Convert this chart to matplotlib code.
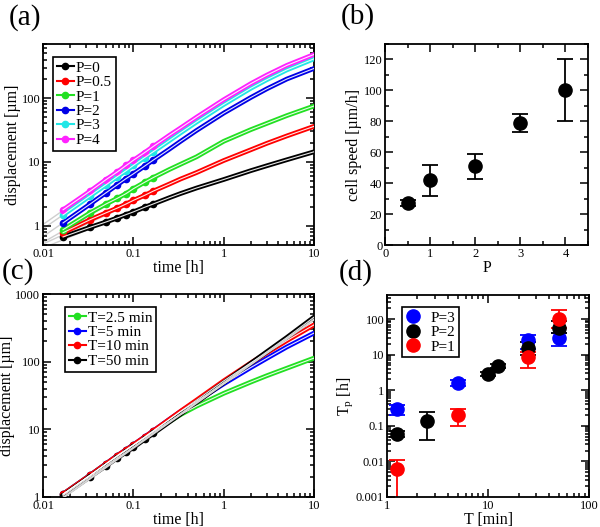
import numpy as np
import matplotlib
matplotlib.use("Agg")
import matplotlib.pyplot as plt
from matplotlib.ticker import FuncFormatter, MultipleLocator, LogLocator, NullFormatter

plt.rcParams['font.family'] = ['Liberation Serif', 'DejaVu Serif']
plt.rcParams['mathtext.fontset'] = 'custom'
plt.rcParams['mathtext.rm'] = 'Liberation Serif'
plt.rcParams['mathtext.it'] = 'Liberation Serif:italic'

# ---- panel (a): displacement vs time for several P ----
t_min = [1, 2, 3, 4, 5, 6, 8, 10, 15, 20, 30, 60, 120, 180, 300, 600]
a_labels = ['P=0', 'P=0.5', 'P=1', 'P=2', 'P=3', 'P=4']
a_colors = ['black', '#ff0000', '#22e022', '#0000e6', '#22e6e6', '#ff22ff']
a_disp = [
    [0.67, 0.95, 1.15, 1.33, 1.5, 1.65, 1.95, 2.2, 2.75, 3.2, 3.9, 5.3, 7.3, 8.7, 10.8, 14.4],
    [0.78, 1.25, 1.6, 1.9, 2.2, 2.5, 3.0, 3.5, 4.5, 5.4, 6.8, 10.5, 15.5, 19.5, 25.5, 36],
    [0.87, 1.6, 2.2, 2.7, 3.2, 3.8, 4.8, 5.7, 7.6, 9.2, 12, 21, 32, 40, 53, 75],
    [1.11, 2.2, 3.3, 4.4, 5.5, 6.5, 8.6, 10.7, 15.8, 21, 31, 58, 102, 139, 198, 290],
    [1.48, 2.95, 4.4, 5.9, 7.3, 8.8, 11.7, 14.5, 21.5, 28.5, 42, 79, 142, 193, 275, 410],
    [1.78, 3.5, 5.3, 7.0, 8.8, 10.6, 14, 17.5, 26, 34, 50, 94, 168, 228, 324, 480],
]
# light grey guide lines (value at t=0.01 h and t=0.1 h)
a_guide_t = [0.01, 0.1]
a_guide = [[0.45, 1.7], [0.52, 2.3], [0.55, 3.6], [0.68, 6.3], [0.9, 8.5], [1.05, 10.2]]

# ---- panel (b): cell speed vs P ----
b_P = [0.5, 1, 2, 3, 4]
b_speed = [27, 42, 51, 79, 100]
b_err = [2, 10, 8, 6, 20]

# ---- panel (c): displacement vs time for several T ----
c_labels = ['T=2.5 min', 'T=5 min', 'T=10 min', 'T=50 min']
c_colors = ['#22e022', '#0000ff', '#ff0000', 'black']
c_disp = [
    [1.1, 2.1, 3.1, 4.0, 4.9, 5.8, 7.5, 9.2, 13, 16.5, 22, 34, 50, 62, 80, 113],
    [1.1, 2.1, 3.1, 4.1, 5.0, 5.9, 7.7, 9.5, 14, 18.3, 26, 47, 82, 112, 165, 265],
    [1.1, 2.1, 3.1, 4.1, 5.0, 5.9, 7.7, 9.5, 14, 18.5, 27, 52, 96, 135, 205, 350],
    [1.05, 2.0, 2.9, 3.8, 4.6, 5.4, 7.1, 8.7, 12.8, 16.8, 25, 49, 95, 140, 228, 455],
]
c_guide_t = [0.01, 10]
c_guide = [0.6, 420]

# ---- panel (d): persistence time vs T ----
d_labels = ['P=3', 'P=2', 'P=1']
d_colors = ['#0000ff', 'black', '#ff0000']
d_T = [[1.25, 5, 25, 50], [1.25, 2.5, 10, 12.5, 25, 50], [1.25, 5, 25, 50]]
d_Tp = [[0.3, 1.6, 25, 29], [0.06, 0.14, 2.9, 4.8, 15, 56], [0.0063, 0.2, 8.5, 100]]
d_lo = [[0.2, 1.3, 14, 17], [0.05, 0.04, 2.5, 4.2, 10, 40], [0.0005, 0.1, 4.1, 55]]
d_hi = [[0.39, 1.9, 35, 41], [0.07, 0.24, 3.3, 5.4, 22, 90], [0.011, 0.3, 12, 175]]

t_h = np.array(t_min) / 60.0
fmt = FuncFormatter(lambda v, p: f'{v:g}')
LABEL_FS = 11.5
TICK_FS = 9


def style_axes(ax):
    for s in ax.spines.values():
        s.set_linewidth(1.3)
    ax.tick_params(which='both', direction='in', top=True, right=True,
                   labelsize=TICK_FS, width=1.1, pad=2)
    ax.tick_params(which='major', length=6)
    ax.tick_params(which='minor', length=3)


def log_axis(axis):
    axis.set_major_locator(LogLocator(base=10, numticks=12))
    axis.set_minor_locator(LogLocator(base=10, subs=np.arange(2, 10), numticks=12))
    axis.set_major_formatter(fmt)
    axis.set_minor_formatter(NullFormatter())


def draw_curves(ax, disp, colors, labels):
    handles = []
    for d, c, lab in zip(disp, colors, labels):
        ax.plot(t_h, d, color=c, lw=3.4, solid_capstyle='round', zorder=3)
        ax.plot(t_h[:8], d[:8], 'o', color=c, ms=4.5, zorder=4)
        ax.plot(t_h, d, color='white', lw=0.8, alpha=0.9, zorder=5)
        h, = ax.plot([], [], '-o', color=c, lw=1.5, ms=4.5, label=lab)
        handles.append(h)
    return handles


def boxed_legend(ax, handles, labels, anchor, **kw):
    leg = ax.legend(handles, labels, loc='upper left', fontsize=11,
                    labelspacing=0.05, borderpad=0.25, borderaxespad=0,
                    fancybox=False, framealpha=1, edgecolor='black',
                    bbox_to_anchor=anchor, **kw)
    leg.get_frame().set_linewidth(1.2)
    return leg


fig = plt.figure(figsize=(6.0, 5.27), dpi=100)

# (a)
ax = fig.add_axes([0.0717, 0.535, 0.4516, 0.3815])
for g in a_guide:
    ax.plot(a_guide_t, g, color='#cfcfcf', lw=1, zorder=1)
hs = draw_curves(ax, a_disp, a_colors, a_labels)
ax.set_xscale('log')
ax.set_yscale('log')
ax.set_xlim(0.01, 10)
ax.set_ylim(0.5, 700)
log_axis(ax.xaxis)
log_axis(ax.yaxis)
style_axes(ax)
ax.set_xlabel('time [h]', fontsize=LABEL_FS, labelpad=0)
ax.set_ylabel('displacement [µm]', fontsize=LABEL_FS, labelpad=0)
boxed_legend(ax, hs, a_labels, (0.037, 0.935), handlelength=1.1, handletextpad=0.15)

# (b)
ax = fig.add_axes([0.642, 0.535, 0.338, 0.3815])
ax.errorbar(b_P, b_speed, yerr=b_err, fmt='o', color='black', ms=9.5,
            capsize=6, elinewidth=1.3, capthick=1.3)
ax.set_xlim(0, 4.5)
ax.set_ylim(0, 130)
ax.xaxis.set_major_locator(MultipleLocator(1))
ax.xaxis.set_minor_locator(MultipleLocator(0.5))
ax.yaxis.set_major_locator(MultipleLocator(20))
ax.yaxis.set_minor_locator(MultipleLocator(10))
style_axes(ax)
ax.set_xlabel('P', fontsize=LABEL_FS, labelpad=0)
ax.set_ylabel('cell speed [µm/h]', fontsize=LABEL_FS, labelpad=1)

# (c)
ax = fig.add_axes([0.0717, 0.057, 0.4516, 0.385])
ax.plot(c_guide_t, c_guide, color='#d5d5d5', lw=1.5, zorder=6)
hs = draw_curves(ax, c_disp, c_colors, c_labels)
ax.set_xscale('log')
ax.set_yscale('log')
ax.set_xlim(0.01, 10)
ax.set_ylim(1, 1000)
log_axis(ax.xaxis)
log_axis(ax.yaxis)
style_axes(ax)
ax.set_xlabel('time [h]', fontsize=LABEL_FS, labelpad=0)
ax.set_ylabel('displacement [µm]', fontsize=LABEL_FS, labelpad=0)
boxed_legend(ax, hs, c_labels, (0.081, 0.936), handlelength=1.1, handletextpad=0.15)

# (d)
ax = fig.add_axes([0.645, 0.057, 0.337, 0.383])
for T, tp, lo, hi, c, lab in zip(d_T, d_Tp, d_lo, d_hi, d_colors, d_labels):
    tp = np.array(tp)
    yerr = [tp - np.array(lo), np.array(hi) - tp]
    ax.errorbar(T, tp, yerr=yerr, fmt='o', color=c, ms=9.5, capsize=6,
                elinewidth=1.3, capthick=1.3, label=lab)
ax.set_xscale('log')
ax.set_yscale('log')
ax.set_xlim(1, 100)
ax.set_ylim(0.001, 470)
log_axis(ax.xaxis)
log_axis(ax.yaxis)
style_axes(ax)
ax.set_xlabel('T [min]', fontsize=LABEL_FS, labelpad=0)
ax.set_ylabel('T$_\\mathrm{p}$ [h]', fontsize=LABEL_FS, labelpad=1)
handles, labels = ax.get_legend_handles_labels()
handles = [h[0] for h in handles]
boxed_legend(ax, handles, labels, (0.074, 0.94), handlelength=1.0, handletextpad=0.6)

fig.text(0.042, 0.966, '(a)', fontsize=21, ha='center', va='center')
fig.text(0.597, 0.968, '(b)', fontsize=21, ha='center', va='center')
fig.text(0.030, 0.484, '(c)', fontsize=21, ha='center', va='center')
fig.text(0.593, 0.482, '(d)', fontsize=21, ha='center', va='center')

fig.savefig('out.png', dpi=100)
